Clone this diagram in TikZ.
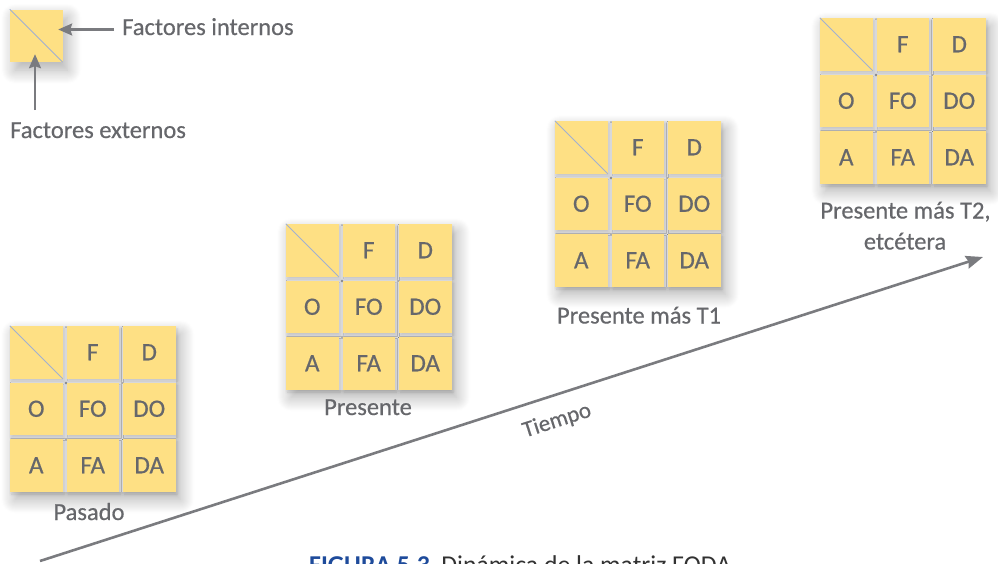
\documentclass[tikz,border=0pt]{standalone}
\usepackage{fontspec}
\setmainfont{Carlito}
\newfontfamily\txtfont{Carlito}[FakeBold=0.5]
\usetikzlibrary{arrows.meta,shadows.blur}
\definecolor{cellyellow}{RGB}{254,224,132}
\definecolor{txtgrey}{RGB}{102,103,107}
\definecolor{arrgrey}{RGB}{122,123,127}
\definecolor{diagblue}{RGB}{160,176,210}
\definecolor{capblue}{RGB}{30,75,155}
\definecolor{capgrey}{RGB}{50,50,50}
\definecolor{gapgrey}{RGB}{226,226,228}
\tikzset{
  blockshadow/.style={fill=gapgrey, blur shadow={shadow xshift=5pt, shadow yshift=-8pt, shadow blur radius=14pt, shadow blur steps=14, shadow opacity=32}},
  cellshadow/.style={fill=cellyellow, blur shadow={shadow xshift=1.5pt, shadow yshift=-2.5pt, shadow blur radius=3pt, shadow blur steps=6, shadow opacity=14}},
  cell/.style={rectangle, fill=cellyellow, minimum size=52.5pt, inner sep=0pt, text=txtgrey, font=\txtfont\fontsize{25}{30}\selectfont},
  diag/.style={draw=diagblue, line width=1pt},
  lbl/.style={text=txtgrey, font=\txtfont\fontsize{24.5}{30}\selectfont, inner sep=0pt},
  legarrow/.style={draw=arrgrey, line width=2.2pt, -{Stealth[length=14pt,width=12pt,inset=2pt]}},
  timearrow/.style={draw=arrgrey, line width=2.6pt, -{Stealth[length=17pt,width=13pt,inset=2pt]}}
}
\newcommand\fodamat[3]{%
  \fill[blockshadow] (#2,#3) rectangle ++(165.5,165.5);
  \foreach \r in {0,1,2}{\foreach \c in {0,1,2}{
    \fill[cellshadow] ({#2+\c*56.5},{#3+\r*56.5}) rectangle ++(52.5,52.5);}}
  \node[cell] (#1-00) at ({#2+26.25},{#3+26.25}) {};
  \node[cell] (#1-01) at ({#2+82.75},{#3+26.25}) {F};
  \node[cell] (#1-02) at ({#2+139.25},{#3+26.25}) {D};
  \node[cell] (#1-10) at ({#2+26.25},{#3+82.75}) {O};
  \node[cell] (#1-11) at ({#2+82.75},{#3+82.75}) {FO};
  \node[cell] (#1-12) at ({#2+139.25},{#3+82.75}) {DO};
  \node[cell] (#1-20) at ({#2+26.25},{#3+139.25}) {A};
  \node[cell] (#1-21) at ({#2+82.75},{#3+139.25}) {FA};
  \node[cell] (#1-22) at ({#2+139.25},{#3+139.25}) {DA};
  \draw[diag] (#1-00.north west) -- (#1-00.south east);
}
\begin{document}
\begin{tikzpicture}[x=1pt,y=-1pt]
\useasboundingbox (0,0) rectangle (998,563);
% legend
\fill[blockshadow, fill=cellyellow] (10,9.5) rectangle (62.5,62);
\node[cell] (leg) at (36.25,35.75) {};
\draw[diag] (leg.north west) -- (leg.south east);
\node[lbl, anchor=base west] (int) at (122,35) {Factores internos};
\node[lbl, anchor=base west] (ext) at (10,138) {Factores externos};
\coordinate (a1) at (114,29.5);
\coordinate (a2) at (35,110);
\draw[legarrow] (a1) -- ([xshift=-4.5pt]leg.east |- a1);
\draw[legarrow] (a2) -- ([yshift=8pt]leg.south -| a2);
% timeline
\coordinate (t0) at (40,561);
\coordinate (t1) at (983,257);
\draw[timearrow] (t0) -- (t1);
\node[text=txtgrey, font=\txtfont\fontsize{23}{28}\selectfont, rotate=17.9, inner sep=0pt] (tiempo) at (557,421) {Tiempo};
% matrices
\fodamat{pas}{10}{326}
\fodamat{pre}{286}{224}
\fodamat{tuno}{555}{121}
\fodamat{tdos}{820}{18}
\node[lbl, anchor=base] (lpas) at (89,520) {Pasado};
\node[lbl, anchor=base] (lpre) at (368,415) {Presente};
\node[lbl, anchor=base] (ltuno) at (639,323.5) {Presente más T1};
\node[lbl, anchor=base] (ltdos) at (905.5,218.5) {Presente más T2,};
\node[lbl, anchor=base] (ltdosb) at (905,249.5) {etcétera};
% caption
\node[anchor=base west, inner sep=0pt, font=\fontsize{25.7}{30}\selectfont, text=capgrey] (cap) at (309,573.5) {\textcolor{capblue}{\textbf{FIGURA 5.3}}\ \ Dinámica de la matriz FODA};
\end{tikzpicture}
\end{document}
